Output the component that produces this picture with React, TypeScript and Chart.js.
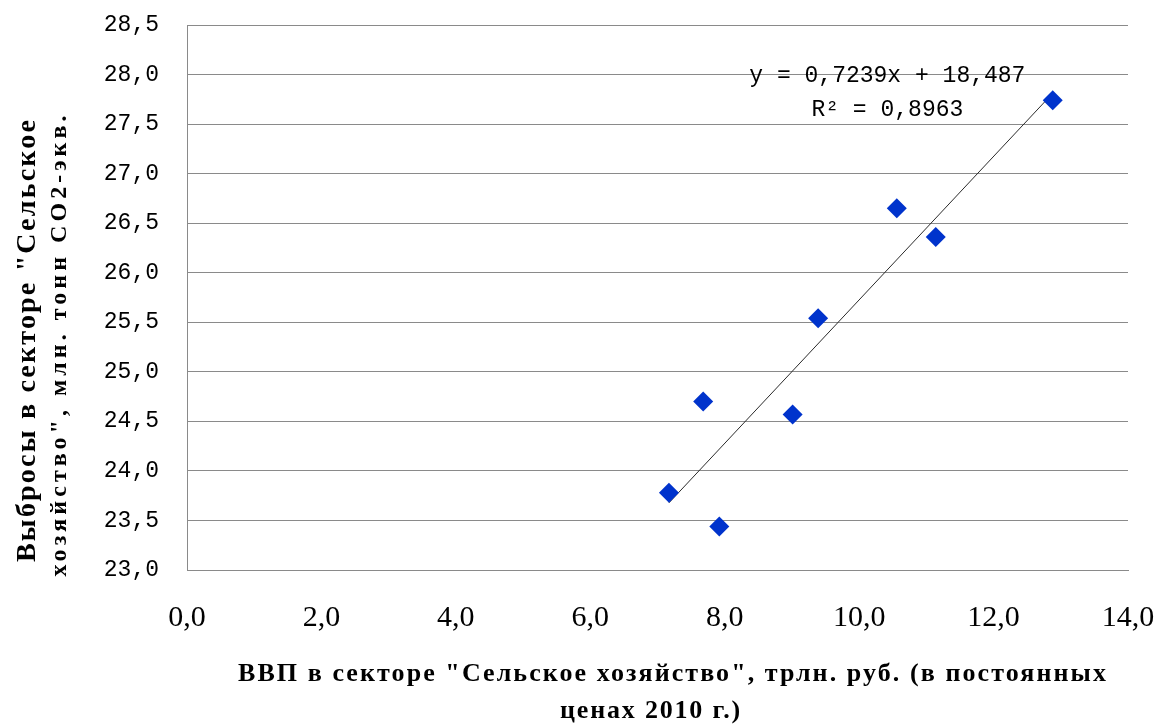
import React, { useEffect, useRef } from "react";
import { Chart, registerables } from "chart.js";

Chart.register(...registerables);

// Data
const gdpValues = [7.17, 7.68, 7.92, 9.01, 9.39, 10.56, 11.14, 12.88];
const emissionValues = [23.78, 24.7, 23.44, 24.57, 25.54, 26.65, 26.36, 27.74];
const trendSlope = 0.7239;
const trendIntercept = 18.487;
const equationLines = ["y = 0,7239x + 18,487", "R² = 0,8963"];
const equationAnchor = [10.42, 27.99, 27.64];
const xAxisRange = [0, 14, 2];
const yAxisRange = [23, 28.5, 0.5];
const xTitleLines = ['ВВП в секторе "Сельское хозяйство", трлн. руб. (в постоянных', "ценах 2010 г.)"];
const yTitleLines = ['Выбросы в секторе "Сельское', 'хозяйство", млн. тонн СО2-экв.'];

const fmt = (v: number) => v.toFixed(1).replace(".", ",");

function drawSpaced(ctx: CanvasRenderingContext2D, text: string, cx: number, cy: number, target: number, font: string) {
  ctx.font = font;
  (ctx as any).letterSpacing = "0px";
  const w0 = ctx.measureText(text).width;
  const sp = Math.max(0, (target - w0) / text.length);
  (ctx as any).letterSpacing = sp + "px";
  ctx.textAlign = "left";
  ctx.textBaseline = "middle";
  ctx.fillText(text, cx - target / 2, cy);
  (ctx as any).letterSpacing = "0px";
}

const textPlugin = {
  id: "extraTexts",
  afterDraw(chart: any) {
    const ctx: CanvasRenderingContext2D = chart.ctx;
    const xs = chart.scales.x;
    const ys = chart.scales.y;
    ctx.save();
    ctx.fillStyle = "#000";
    // trendline equation
    ctx.font = "23px 'Liberation Mono'";
    ctx.textAlign = "center";
    ctx.textBaseline = "middle";
    const ex = xs.getPixelForValue(equationAnchor[0]);
    ctx.fillText(equationLines[0], ex, ys.getPixelForValue(equationAnchor[1]));
    ctx.fillText(equationLines[1], ex, ys.getPixelForValue(equationAnchor[2]));
    // x axis title
    drawSpaced(ctx, xTitleLines[0], 673, 674, 870, "bold 26px 'Liberation Serif'");
    drawSpaced(ctx, xTitleLines[1], 651, 711, 182, "bold 26px 'Liberation Serif'");
    // y axis title (rotated)
    ctx.save();
    ctx.translate(28, 340);
    ctx.rotate(-Math.PI / 2);
    drawSpaced(ctx, yTitleLines[0], 0, 0, 444, "bold 28px 'Liberation Serif'");
    ctx.restore();
    ctx.save();
    ctx.translate(60, 344);
    ctx.rotate(-Math.PI / 2);
    drawSpaced(ctx, yTitleLines[1], 0, 0, 465, "bold 24px 'Liberation Serif'");
    ctx.restore();
    ctx.restore();
  },
};

export default function App() {
  const canvasRef = useRef<HTMLCanvasElement | null>(null);

  useEffect(() => {
    if (!canvasRef.current) return;
    const points = gdpValues.map((x, i) => ({ x, y: emissionValues[i] }));
    const xMin = Math.min(...gdpValues);
    const xMax = Math.max(...gdpValues);
    const trend = [
      { x: xMin, y: trendSlope * xMin + trendIntercept },
      { x: xMax, y: trendSlope * xMax + trendIntercept },
    ];
    const chart = new Chart(canvasRef.current, {
      type: "scatter",
      data: {
        datasets: [
          {
            type: "line",
            data: trend,
            borderColor: "#2a2a2a",
            borderWidth: 1,
            pointRadius: 0,
            fill: false,
            order: 2,
          } as any,
          {
            data: points,
            pointStyle: "rectRot",
            pointRadius: 10,
            pointHoverRadius: 10,
            backgroundColor: "#0033cc",
            borderColor: "#0033cc",
            borderWidth: 0,
            order: 1,
          },
        ],
      },
      options: {
        animation: false,
        responsive: true,
        maintainAspectRatio: false,
        layout: { padding: { top: 25, right: 29, left: 0, bottom: 0 } },
        plugins: {
          legend: { display: false },
          tooltip: { enabled: false },
        },
        scales: {
          x: {
            type: "linear",
            min: xAxisRange[0],
            max: xAxisRange[1],
            ticks: {
              stepSize: xAxisRange[2],
              callback: (v: any) => fmt(Number(v)),
              color: "#000",
              font: { family: "'Liberation Serif'", size: 30 },
              padding: 30,
              maxRotation: 0,
            },
            grid: { display: false, drawTicks: false },
            border: { display: true, color: "#8a8a8a", width: 1 },
            afterFit: (s: any) => {
              s.height = 155;
              s.paddingLeft = 0;
              s.paddingRight = 0;
            },
          },
          y: {
            type: "linear",
            min: yAxisRange[0],
            max: yAxisRange[1],
            ticks: {
              stepSize: yAxisRange[2],
              callback: (v: any) => fmt(Number(v)),
              color: "#000",
              font: { family: "'Liberation Mono'", size: 23 },
              padding: 28,
            },
            grid: { color: "#8a8a8a", lineWidth: 1, drawTicks: false },
            border: { display: true, color: "#8a8a8a", width: 1 },
            afterFit: (s: any) => {
              s.width = 187;
              s.paddingTop = 0;
              s.paddingBottom = 0;
            },
          },
        },
      },
      plugins: [textPlugin],
    });
    return () => chart.destroy();
  }, []);

  return (
    <div style={{ position: "fixed", left: 0, top: 0, width: 1157, height: 725, background: "#fff" }}>
      <canvas ref={canvasRef} />
    </div>
  );
}
